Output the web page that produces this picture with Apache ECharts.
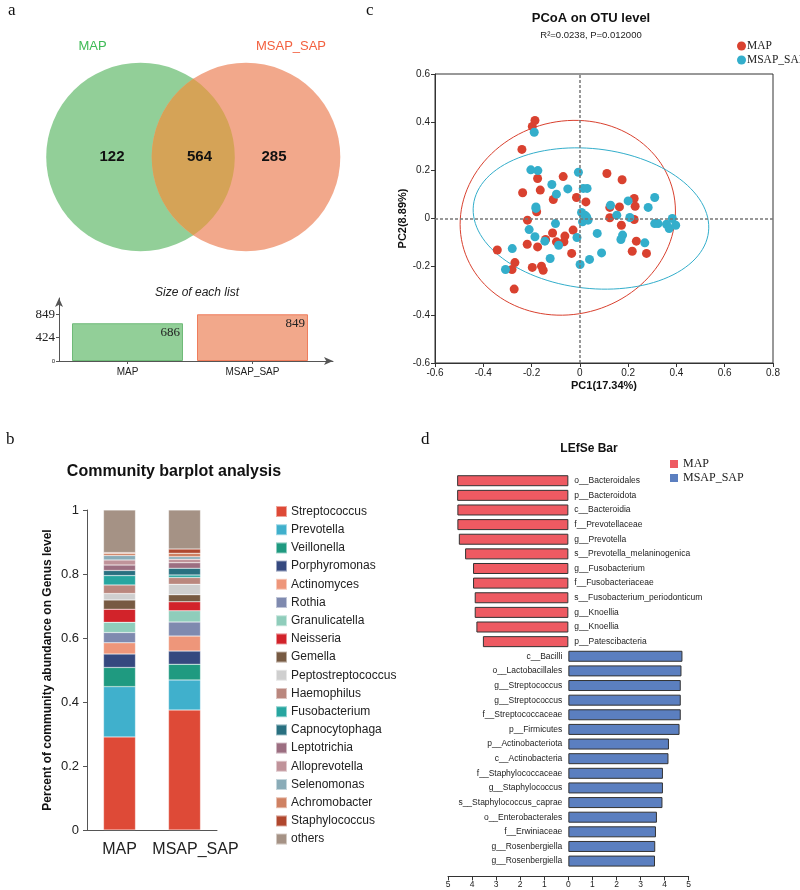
<!DOCTYPE html>
<html>
<head>
<meta charset="utf-8">
<script src="https://cdn.jsdelivr.net/npm/echarts@6/dist/echarts.min.js"></script>
<style>
  html, body { margin: 0; padding: 0; background: #fff; }
  #main { width: 800px; height: 890px; }
</style>
</head>
<body>
<div id="main"></div>
<script>
// ---------- a: Venn + size of each list
var vennGroups = ['MAP', 'MSAP_SAP'];
var vennCounts = [122, 564, 285];        // MAP only, shared, MSAP_SAP only
var listSizes = [686, 849];
var listTicks = [0, 424, 849];

// ---------- c: PCoA (PC1, PC2)
var pcoaMAP = [
  [-0.186, 0.407], [-0.197, 0.382], [-0.24, 0.287], [-0.175, 0.166], [-0.069, 0.174],
  [0.112, 0.187], [0.175, 0.161], [-0.237, 0.107], [-0.164, 0.118], [-0.11, 0.079],
  [-0.014, 0.087], [0.025, 0.069], [-0.217, -0.007], [-0.179, 0.028], [0.124, 0.046],
  [0.164, 0.048], [0.225, 0.083], [0.229, 0.051], [0.124, 0.003], [0.172, -0.028],
  [0.225, -0.004], [-0.113, -0.06], [-0.062, -0.073], [-0.028, -0.048], [-0.066, -0.097],
  [-0.097, -0.097], [-0.218, -0.107], [-0.175, -0.118], [-0.142, -0.087], [-0.342, -0.131],
  [-0.269, -0.183], [-0.281, -0.212], [-0.197, -0.203], [-0.159, -0.198], [-0.152, -0.215],
  [-0.034, -0.145], [-0.272, -0.293], [0.234, -0.094], [0.217, -0.136], [0.276, -0.145]
];
var pcoaMSAP = [
  [-0.189, 0.358], [-0.203, 0.202], [-0.174, 0.199], [-0.006, 0.192], [-0.116, 0.141],
  [-0.05, 0.123], [0.014, 0.125], [0.03, 0.125], [-0.097, 0.101], [-0.182, 0.048],
  [-0.182, 0.042], [0.007, 0.025], [0.021, 0.014], [0.011, -0.014], [0.034, -0.007],
  [0.028, 0.007], [-0.101, -0.021], [-0.21, -0.046], [-0.186, -0.076], [-0.145, -0.094],
  [-0.088, -0.111], [-0.012, -0.079], [0.072, -0.062], [0.127, 0.055], [0.153, 0.014],
  [0.2, 0.073], [0.207, 0.004], [0.283, 0.046], [0.31, 0.087], [0.31, -0.021],
  [0.324, -0.021], [0.383, 0], [0.359, -0.024], [0.37, -0.042], [0.397, -0.028],
  [0.177, -0.069], [0.17, -0.087], [0.269, -0.101], [0.09, -0.143], [0.04, -0.17],
  [0.001, -0.191], [-0.123, -0.166], [-0.28, -0.125], [-0.308, -0.212]
];
// confidence ellipses: centre x, centre y, semi-axis a, semi-axis b, angle (deg)
var ellipseMAP = [-0.05, 0.003, 0.45, 0.40, 17];
var ellipseMSAP = [0.046, 0.0, 0.49, 0.29, -6.5];

// ---------- b: community barplot
var barGroups = ['MAP', 'MSAP_SAP'];
var genera = ['Streptococcus', 'Prevotella', 'Veillonella', 'Porphyromonas', 'Actinomyces',
  'Rothia', 'Granulicatella', 'Neisseria', 'Gemella', 'Peptostreptococcus', 'Haemophilus',
  'Fusobacterium', 'Capnocytophaga', 'Leptotrichia', 'Alloprevotella', 'Selenomonas',
  'Achromobacter', 'Staphylococcus', 'others'];
var abundMAP = [0.291, 0.157, 0.060, 0.042, 0.035, 0.032, 0.032, 0.041, 0.029, 0.020,
  0.027, 0.029, 0.016, 0.017, 0.016, 0.014, 0.007, 0.002, 0.133];
var abundMSAP = [0.375, 0.094, 0.049, 0.041, 0.047, 0.044, 0.035, 0.028, 0.022, 0.033,
  0.021, 0.008, 0.021, 0.017, 0.011, 0.008, 0.011, 0.013, 0.122];

// ---------- d: LEfSe (LDA scores)
var lefseMAPNames = ['o__Bacteroidales', 'p__Bacteroidota', 'c__Bacteroidia', 'f__Prevotellaceae',
  'g__Prevotella', 's__Prevotella_melaninogenica', 'g__Fusobacterium', 'f__Fusobacteriaceae',
  's__Fusobacterium_periodonticum', 'g__Knoellia', 'g__Knoellia', 'p__Patescibacteria'];
var lefseMAPScores = [4.62, 4.62, 4.61, 4.61, 4.55, 4.29, 3.96, 3.96, 3.89, 3.89, 3.82, 3.55];
var lefseMSAPNames = ['c__Bacilli', 'o__Lactobacillales', 'g__Streptococcus', 'g__Streptococcus',
  'f__Streptococcaceae', 'p__Firmicutes', 'p__Actinobacteriota', 'c__Actinobacteria',
  'f__Staphylococcaceae', 'g__Staphylococcus', 's__Staphylococcus_caprae', 'o__Enterobacterales',
  'f__Erwiniaceae', 'g__Rosenbergiella', 'g__Rosenbergiella'];
var lefseMSAPScores = [4.74, 4.70, 4.67, 4.67, 4.67, 4.62, 4.18, 4.16, 3.93, 3.93, 3.91, 3.68, 3.64, 3.61, 3.60];

// ---------- styles
var SANS = '"Liberation Sans", Arial, sans-serif';
var SERIF = '"Liberation Serif", "Times New Roman", serif';
var generaColors = ['#de4a37', '#40b0cc', '#1f9a80', '#35497f', '#ee967a', '#7f8aaf', '#8fcdbb',
  '#d2232a', '#775a42', '#cfcfcf', '#ba877e', '#27a6a0', '#297080', '#9c6e81', '#c0939a',
  '#8aacb8', '#cf8162', '#b0472e', '#a59285'];
var pcoaColors = ['#d9412f', '#33aecb'];
var lefseColors = ['#ee5a62', '#5b7fc0'];
var vennColors = ['#92cf98', '#f2a88b', '#d5a357'];
var listColors = [['#92cf98', '#6fba78'], ['#f2a88b', '#ef7d5c']];

// venn layout (pixels)
var vennLayout = { centers: [[140.5, 157], [246, 157]], radius: 94.3, textX: [112, 199.5, 274] };

var chart = echarts.init(document.getElementById('main'));

function ellipseRender(params, api) {
  var cx = api.value(0), cy = api.value(1), a = api.value(2), b = api.value(3);
  var t = api.value(4) * Math.PI / 180;
  var pts = [];
  for (var k = 0; k <= 120; k++) {
    var u = k / 120 * Math.PI * 2;
    var ex = a * Math.cos(u), ey = b * Math.sin(u);
    pts.push(api.coord([cx + ex * Math.cos(t) - ey * Math.sin(t), cy + ex * Math.sin(t) + ey * Math.cos(t)]));
  }
  return {
    type: 'polyline',
    shape: { points: pts },
    style: { stroke: pcoaColors[params.dataIndex], fill: null, lineWidth: 1 }
  };
}

function vennRender(params, api) {
  var c = vennLayout.centers, r = vennLayout.radius, i = params.dataIndex;
  var cy = c[0][1];
  var label = {
    type: 'text', z2: 5,
    style: {
      text: String(vennCounts[i]), x: vennLayout.textX[i], y: cy,
      font: 'bold 15px ' + SANS, fill: '#111', align: 'center', verticalAlign: 'middle'
    }
  };
  var shape;
  if (i === 1) {
    var half = (c[1][0] - c[0][0]) / 2, xm = c[0][0] + half, h = Math.sqrt(r * r - half * half);
    var pd = 'M' + xm + ',' + (cy - h) + ' A' + r + ',' + r + ' 0 0 1 ' + xm + ',' + (cy + h) +
      ' A' + r + ',' + r + ' 0 0 1 ' + xm + ',' + (cy - h) + ' Z';
    shape = { type: 'path', z2: 2, shape: { pathData: pd }, style: { fill: vennColors[2] } };
  } else {
    var ci = i === 0 ? 0 : 1;
    shape = { type: 'circle', z2: 1, shape: { cx: c[ci][0], cy: c[ci][1], r: r }, style: { fill: vennColors[ci] } };
  }
  return { type: 'group', children: [shape, label] };
}

var lefseRows = [];
for (var k = 0; k < lefseMAPNames.length + lefseMSAPNames.length; k++) lefseRows.push(String(k));
var lefseNames = lefseMAPNames.concat(lefseMSAPNames);
var lefseMAPData = lefseMAPScores.map(function (v) { return -v; })
  .concat(lefseMSAPScores.map(function () { return '-'; }));
var lefseMSAPData = lefseMAPScores.map(function () { return '-'; }).concat(lefseMSAPScores);

function txt(x, y, text, font, fill, align) {
  return { type: 'text', x: x, y: y, silent: true,
    style: { text: text, font: font, fill: fill || '#111', align: align || 'center', verticalAlign: 'middle' } };
}

var option = {
  animation: false,
  backgroundColor: '#fff',
  graphic: [
    txt(8, 11, 'a', '17px ' + SERIF, '#111', 'left'),
    txt(366, 11, 'c', '17px ' + SERIF, '#111', 'left'),
    txt(6, 440, 'b', '17px ' + SERIF, '#111', 'left'),
    txt(421, 440, 'd', '17px ' + SERIF, '#111', 'left'),
    txt(92.5, 46, vennGroups[0], '13px ' + SANS, '#3dba55'),
    txt(291, 46, vennGroups[1], '13px ' + SANS, '#f3603f'),
    txt(197, 293, 'Size of each list', 'italic 12px ' + SANS, '#222'),
    txt(591, 18, 'PCoA on OTU level', 'bold 13px ' + SANS, '#111'),
    txt(591, 35, 'R\u00b2=0.0238, P=0.012000', '9.5px ' + SANS, '#222'),
    txt(174, 472, 'Community barplot analysis', 'bold 16px ' + SANS, '#111'),
    txt(589, 449, 'LEfSe Bar', 'bold 12px ' + SANS, '#111')
  ],
  legend: [
    {
      data: genera, orient: 'vertical', left: 270, top: 500, icon: 'rect',
      itemWidth: 11, itemHeight: 11, itemGap: 5.2, selectedMode: false,
      textStyle: { fontFamily: SANS, fontSize: 12, color: '#222', padding: [0, 0, 0, -1] }
    },
    {
      data: [{ name: 'MAP', icon: 'circle', itemStyle: { color: pcoaColors[0] } },
             { name: 'MSAP_SAP', icon: 'circle', itemStyle: { color: pcoaColors[1] } }],
      orient: 'vertical', left: 732, top: 35, itemWidth: 9, itemHeight: 9, itemGap: 2,
      selectedMode: false,
      textStyle: { fontFamily: SERIF, fontSize: 11.5, color: '#222', padding: [0, 0, 0, -4] }
    },
    {
      data: [{ name: 'LEfSe MAP', icon: 'rect', itemStyle: { color: lefseColors[0], borderWidth: 0 } },
             { name: 'LEfSe MSAP_SAP', icon: 'rect', itemStyle: { color: lefseColors[1], borderWidth: 0 } }],
      orient: 'vertical', left: 665, top: 453, itemWidth: 8, itemHeight: 8, itemGap: 2,
      selectedMode: false,
      formatter: function (n) { return n.replace('LEfSe ', ''); },
      textStyle: { fontFamily: SERIF, fontSize: 12, color: '#222' }
    }
  ],
  grid: [
    { left: 65, top: 298, width: 250, height: 63 },           // 0 size of each list (bars)
    { left: 59, top: 298, width: 274, height: 63 },           // 1 size of each list (axis frame)
    { left: 435, top: 74, width: 338, height: 289, show: true, borderColor: '#333', borderWidth: 1 }, // 2 PCoA
    { left: 87, top: 510, width: 130, height: 320 },          // 3 community barplot
    { left: 448, top: 473.4, width: 240.7, height: 395 }      // 4 LEfSe
  ],
  xAxis: [
    {
      gridIndex: 0, type: 'category', data: vennGroups,
      axisLine: { show: false },
      axisTick: { show: true, alignWithLabel: true, length: 3, lineStyle: { color: '#555' } },
      axisLabel: { fontFamily: SANS, fontSize: 10, color: '#222', margin: 6, interval: 0 }
    },
    {
      gridIndex: 1, type: 'value', min: 0, max: 1,
      axisLine: { show: true, symbol: ['none', 'arrow'], symbolSize: [6, 9], lineStyle: { color: '#555' } },
      axisTick: { show: false }, axisLabel: { show: false }, splitLine: { show: false }
    },
    {
      gridIndex: 2, type: 'value', min: -0.6, max: 0.8, interval: 0.2,
      name: 'PC1(17.34%)', nameLocation: 'middle', nameGap: 17,
      nameTextStyle: { fontFamily: SANS, fontSize: 11, fontWeight: 'bold', color: '#111' },
      axisLine: { show: true, onZero: false, lineStyle: { color: '#333' } },
      axisTick: { show: true, length: 4, lineStyle: { color: '#333' } },
      axisLabel: { fontFamily: SANS, fontSize: 10, color: '#222', margin: 5,
        formatter: function (v) { return Math.round(v * 10) / 10; } },
      splitLine: { show: false }
    },
    {
      gridIndex: 3, type: 'category',
      data: [barGroups[0], { value: barGroups[1], textStyle: { padding: [0, 0, 0, 22] } }],
      axisLine: { lineStyle: { color: '#555' } },
      axisTick: { alignWithLabel: true, length: 4, lineStyle: { color: '#555' } },
      axisLabel: { fontFamily: SANS, fontSize: 16, color: '#222', margin: 12, interval: 0, hideOverlap: false }
    },
    {
      gridIndex: 4, type: 'value', min: -5, max: 5, interval: 1, offset: 8,
      axisLine: { show: true, lineStyle: { color: '#333' } },
      axisTick: { show: true, length: 4, lineStyle: { color: '#333' } },
      axisLabel: { fontFamily: SANS, fontSize: 8.5, color: '#222', margin: 4,
        formatter: function (v) { return Math.abs(v); } },
      splitLine: { show: false }
    }
  ],
  yAxis: [
    { gridIndex: 0, type: 'value', min: 0, max: 1145, show: false },
    {
      gridIndex: 1, type: 'value', min: 0, max: 1145,
      axisLine: { show: true, symbol: ['none', 'arrow'], symbolSize: [6, 9], lineStyle: { color: '#555' } },
      axisTick: { show: true, length: 3, customValues: listTicks, lineStyle: { color: '#555' } },
      axisLabel: {
        customValues: listTicks, fontFamily: SERIF, fontSize: 13, color: '#222', margin: 4,
        formatter: function (v) { return v === 0 ? '{s|0}' : String(v); },
        rich: { s: { fontFamily: SANS, fontSize: 6, color: '#222' } }
      },
      splitLine: { show: false }
    },
    {
      gridIndex: 2, type: 'value', min: -0.6, max: 0.6, interval: 0.2,
      name: 'PC2(8.89%)', nameLocation: 'middle', nameGap: 24,
      nameTextStyle: { fontFamily: SANS, fontSize: 11, fontWeight: 'bold', color: '#111' },
      axisLine: { show: true, onZero: false, lineStyle: { color: '#333' } },
      axisTick: { show: true, length: 4, lineStyle: { color: '#333' } },
      axisLabel: { fontFamily: SANS, fontSize: 10, color: '#222', margin: 5,
        formatter: function (v) { return Math.round(v * 10) / 10; } },
      splitLine: { show: false }
    },
    {
      gridIndex: 3, type: 'value', min: 0, max: 1, interval: 0.2,
      name: 'Percent of community abundance on Genus level', nameLocation: 'middle', nameGap: 33,
      nameTextStyle: { fontFamily: SANS, fontSize: 12, fontWeight: 'bold', color: '#111' },
      axisLine: { show: true, lineStyle: { color: '#555' } },
      axisTick: { show: true, length: 4, lineStyle: { color: '#555' } },
      axisLabel: { fontFamily: SANS, fontSize: 13, color: '#222', margin: 8,
        formatter: function (v) { return Math.round(v * 10) / 10; } },
      splitLine: { show: false }
    },
    { gridIndex: 4, type: 'category', data: lefseRows, inverse: true, show: false }
  ],
  series: [
    // a: venn
    { type: 'custom', coordinateSystem: 'none', renderItem: vennRender, data: vennCounts, silent: true },
    // a: size of each list
    {
      name: 'listSize', type: 'bar', xAxisIndex: 0, yAxisIndex: 0, barWidth: 111,
      data: listSizes.map(function (v, i) {
        return { value: v, itemStyle: { color: listColors[i][0], borderColor: listColors[i][1], borderWidth: 1 } };
      }),
      label: { show: true, position: 'insideTopRight', distance: 3, fontFamily: SERIF, fontSize: 13, color: '#222' }
    },
    // c: PCoA ellipses + points
    {
      type: 'custom', xAxisIndex: 2, yAxisIndex: 2, renderItem: ellipseRender, silent: true,
      encode: { x: 0, y: 1 }, data: [ellipseMAP, ellipseMSAP], z: 1
    },
    {
      name: 'MAP', type: 'scatter', xAxisIndex: 2, yAxisIndex: 2, data: pcoaMAP, symbolSize: 9,
      itemStyle: { color: pcoaColors[0], opacity: 1 }, z: 3,
      markLine: {
        silent: true, symbol: 'none', label: { show: false },
        lineStyle: { color: '#777', type: [3, 2], width: 1.5 },
        data: [{ xAxis: 0 }, { yAxis: 0 }]
      }
    },
    {
      name: 'MSAP_SAP', type: 'scatter', xAxisIndex: 2, yAxisIndex: 2, data: pcoaMSAP, symbolSize: 9,
      itemStyle: { color: pcoaColors[1], opacity: 1 }, z: 4
    }
  ]
};

// b: stacked genera
genera.forEach(function (g, i) {
  option.series.push({
    name: g, type: 'bar', stack: 'genus', xAxisIndex: 3, yAxisIndex: 3, barWidth: 32,
    data: [abundMAP[i], abundMSAP[i]],
    itemStyle: { color: generaColors[i], borderColor: 'rgba(255,255,255,0.5)', borderWidth: 0.5 }
  });
});

// d: LEfSe bars
option.series.push({
  name: 'LEfSe MAP', type: 'bar', stack: 'lefse', xAxisIndex: 4, yAxisIndex: 4, barWidth: 11,
  data: lefseMAPData,
  itemStyle: { color: lefseColors[0], borderColor: '#333', borderWidth: 1 },
  label: { show: true, position: 'right', distance: 6, fontFamily: SANS, fontSize: 8.5, color: '#222',
    formatter: function (p) { return lefseNames[p.dataIndex]; } }
});
option.series.push({
  name: 'LEfSe MSAP_SAP', type: 'bar', stack: 'lefse', xAxisIndex: 4, yAxisIndex: 4, barWidth: 11,
  data: lefseMSAPData,
  itemStyle: { color: lefseColors[1], borderColor: '#333', borderWidth: 1 },
  label: { show: true, position: 'left', distance: 6, fontFamily: SANS, fontSize: 8.5, color: '#222',
    formatter: function (p) { return lefseNames[p.dataIndex]; } }
});

chart.setOption(option);
</script>
</body>
</html>
